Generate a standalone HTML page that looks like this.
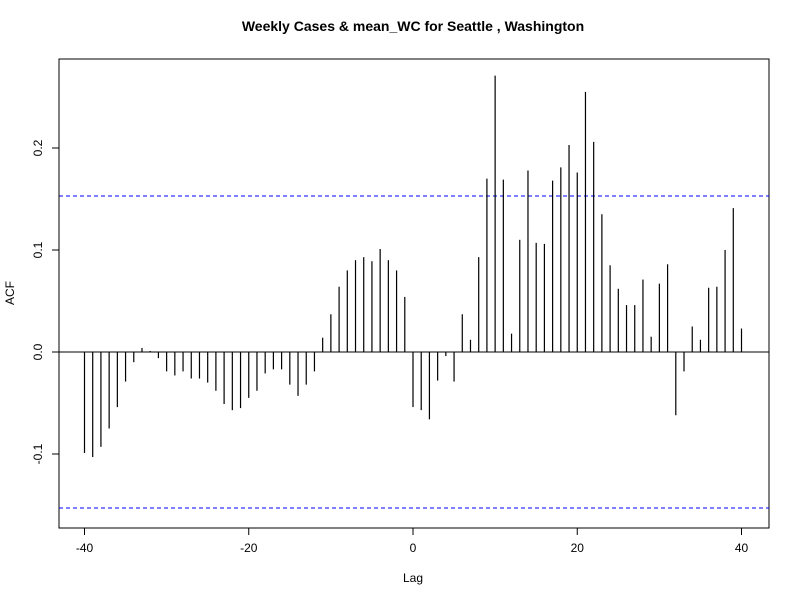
<!DOCTYPE html>
<html><head><meta charset="utf-8"><style>body{margin:0;background:#fff}svg{display:block;font-family:"Liberation Sans",Arial,sans-serif}</style></head>
<body>
<svg id="c" width="800" height="600">
<rect width="800" height="600" fill="#fff"/>
<text x="413" y="31" text-anchor="middle" font-weight="bold" font-size="14">Weekly Cases &amp; mean_WC for Seattle , Washington</text>
<rect x="59" y="59" width="710" height="469" fill="none" stroke="#000"/>
<text x="413" y="582" text-anchor="middle" font-size="12">Lag</text>
<text transform="translate(14,293) rotate(-90)" text-anchor="middle" font-size="12">ACF</text>
<g id="g"></g>
</svg>
<script>
const lags=[];for(let i=-40;i<=40;i++)lags.push(i);
const acfValues=[-0.099,-0.103,-0.093,-0.075,-0.054,-0.029,-0.010,0.004,0.001,-0.006,-0.019,-0.023,-0.019,-0.026,-0.026,-0.030,-0.038,-0.051,-0.057,-0.055,-0.045,-0.038,-0.021,-0.017,-0.017,-0.032,-0.043,-0.032,-0.019,0.014,0.037,0.064,0.080,0.090,0.093,0.089,0.101,0.090,0.080,0.054,-0.054,-0.057,-0.066,-0.028,-0.004,-0.029,0.037,0.012,0.093,0.170,0.271,0.169,0.018,0.110,0.178,0.107,0.106,0.168,0.181,0.203,0.176,0.255,0.206,0.135,0.085,0.062,0.046,0.046,0.071,0.015,0.067,0.086,-0.062,-0.019,0.025,0.012,0.063,0.064,0.100,0.141,0.023];
const xTicks=[-40,-20,0,20,40];
const yTicks=[-0.1,0.0,0.1,0.2];
const yTickLabels=["-0.1","0.0","0.1","0.2"];
const ciValue=0.153;
const X=v=>413+v*8.2125, Y=v=>352-v*1020;
const g=document.getElementById('g'),NS='http://www.w3.org/2000/svg';
function mk(t,a){const e=document.createElementNS(NS,t);for(const k in a)e.setAttribute(k,a[k]);g.appendChild(e);return e;}
let e=mk('line',{x1:59,x2:769,y1:Y(0),y2:Y(0),stroke:'#000'});


[ciValue,-ciValue].forEach(c=>{const l=mk('line',{x1:59,x2:769,y1:Y(c),y2:Y(c),stroke:'#0000ff','stroke-dasharray':'4,3'});

});
lags.forEach((l,i)=>{const b=mk('line',{x1:X(l),x2:X(l),y1:Y(0),y2:Y(acfValues[i]),stroke:'#000','stroke-width':1.2});

});
mk('line',{x1:X(-40),x2:X(40),y1:528,y2:528,stroke:'#000'});
xTicks.forEach(t=>{mk('line',{x1:X(t),x2:X(t),y1:528,y2:535,stroke:'#000'});
const tx=mk('text',{x:X(t),y:552,'text-anchor':'middle','font-size':12});tx.textContent=t;

});
mk('line',{x1:59,x2:59,y1:Y(-0.1),y2:Y(0.2),stroke:'#000'});
yTicks.forEach((t,i)=>{mk('line',{x1:52,x2:59,y1:Y(t),y2:Y(t),stroke:'#000'});
const tx=mk('text',{transform:`translate(42,${Y(t)}) rotate(-90)`,'text-anchor':'middle','font-size':12});tx.textContent=yTickLabels[i];

});
</script>
</body></html>
